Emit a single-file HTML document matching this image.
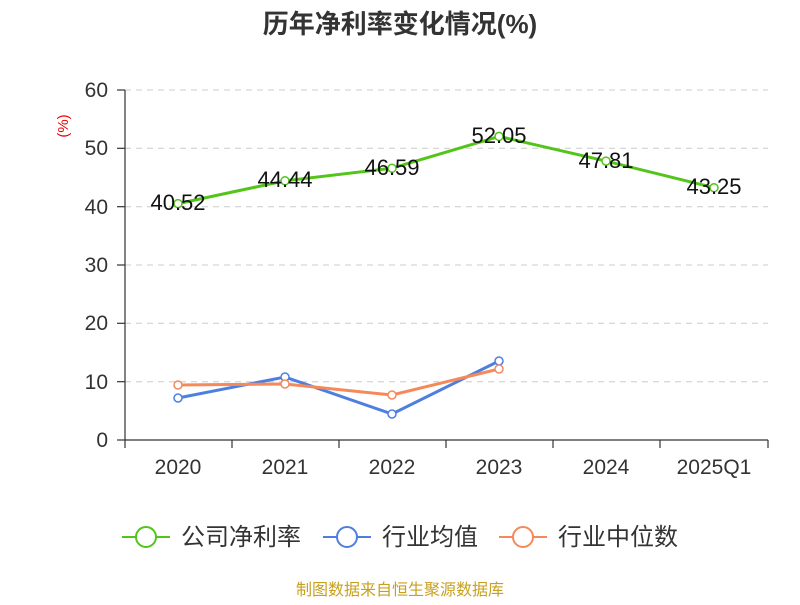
<!DOCTYPE html>
<html><head><meta charset="utf-8"><style>body{margin:0;background:#fff}</style></head><body>
<svg width="800" height="600" xmlns="http://www.w3.org/2000/svg" font-family="'Liberation Sans','Noto Sans CJK SC',sans-serif">
<text x="400" y="33" text-anchor="middle" font-size="26" font-weight="bold" fill="#333">历年净利率变化情况(%)</text>
<text x="68" y="126" text-anchor="middle" font-size="15" fill="#e00" transform="rotate(-90 68 126)">(%)</text>
<g stroke="#ccc" stroke-dasharray="6,5" stroke-width="1">
<line x1="125" y1="90" x2="768" y2="90"/><line x1="125" y1="148.3" x2="768" y2="148.3"/><line x1="125" y1="206.7" x2="768" y2="206.7"/><line x1="125" y1="265" x2="768" y2="265"/><line x1="125" y1="323.3" x2="768" y2="323.3"/><line x1="125" y1="381.7" x2="768" y2="381.7"/>
</g>
<g stroke="#333" stroke-width="1.2">
<line x1="125" y1="90" x2="125" y2="440"/><line x1="125" y1="440" x2="768" y2="440"/>
<line x1="117" y1="90" x2="125" y2="90"/><line x1="117" y1="148.3" x2="125" y2="148.3"/><line x1="117" y1="206.7" x2="125" y2="206.7"/><line x1="117" y1="265" x2="125" y2="265"/><line x1="117" y1="323.3" x2="125" y2="323.3"/><line x1="117" y1="381.7" x2="125" y2="381.7"/><line x1="117" y1="440" x2="125" y2="440"/>
<line x1="125" y1="440" x2="125" y2="448"/><line x1="232" y1="440" x2="232" y2="448"/><line x1="339" y1="440" x2="339" y2="448"/><line x1="446" y1="440" x2="446" y2="448"/><line x1="553" y1="440" x2="553" y2="448"/><line x1="660" y1="440" x2="660" y2="448"/><line x1="768" y1="440" x2="768" y2="448"/>
</g>
<g font-size="21" fill="#333" text-anchor="end">
<text x="108" y="97">60</text><text x="108" y="155">50</text><text x="108" y="214">40</text><text x="108" y="272">30</text><text x="108" y="330">20</text><text x="108" y="389">10</text><text x="108" y="447">0</text>
</g>
<g font-size="21" fill="#333" text-anchor="middle">
<text x="178" y="474">2020</text><text x="285" y="474">2021</text><text x="392" y="474">2022</text><text x="499" y="474">2023</text><text x="606" y="474">2024</text><text x="714" y="474">2025Q1</text>
</g>
<g fill="none" stroke-width="3">
<polyline stroke="#52c41a" points="178,203.6 285,180.8 392,168.2 499,136.4 606,161.1 714,187.7"/>
<polyline stroke="#4e7fe0" points="178,398 285,377 392,414 499,361"/>
<polyline stroke="#f5895a" points="178,385 285,384 392,395 499,369"/>
</g>
<g fill="#fff" stroke-width="1.5">
<g stroke="#52c41a"><circle cx="178" cy="203.6" r="4"/><circle cx="285" cy="180.8" r="4"/><circle cx="392" cy="168.2" r="4"/><circle cx="499" cy="136.4" r="4"/><circle cx="606" cy="161.1" r="4"/><circle cx="714" cy="187.7" r="4"/></g>
<g stroke="#4e7fe0"><circle cx="178" cy="398" r="4"/><circle cx="285" cy="377" r="4"/><circle cx="392" cy="414" r="4"/><circle cx="499" cy="361" r="4"/></g>
<g stroke="#f5895a"><circle cx="178" cy="385" r="4"/><circle cx="285" cy="384" r="4"/><circle cx="392" cy="395" r="4"/><circle cx="499" cy="369" r="4"/></g>
</g>
<g font-size="22" fill="#111" text-anchor="middle">
<text x="178" y="210">40.52</text><text x="285" y="187">44.44</text><text x="392" y="175">46.59</text><text x="499" y="143">52.05</text><text x="606" y="168">47.81</text><text x="714" y="194">43.25</text>
</g>
<g stroke-width="2" fill="#fff">
<line x1="122" y1="537" x2="170" y2="537" stroke="#52c41a"/><circle cx="146" cy="537" r="10" stroke="#52c41a"/>
<line x1="323" y1="537" x2="371" y2="537" stroke="#4e7fe0"/><circle cx="347" cy="537" r="10" stroke="#4e7fe0"/>
<line x1="499" y1="537" x2="547" y2="537" stroke="#f5895a"/><circle cx="523" cy="537" r="10" stroke="#f5895a"/>
</g>
<g font-size="24" fill="#333">
<text x="181" y="545">公司净利率</text><text x="382" y="545">行业均值</text><text x="558" y="545">行业中位数</text>
</g>
<text x="400" y="595" text-anchor="middle" font-size="16" fill="#c8a020">制图数据来自恒生聚源数据库</text>
</svg>
</body></html>
